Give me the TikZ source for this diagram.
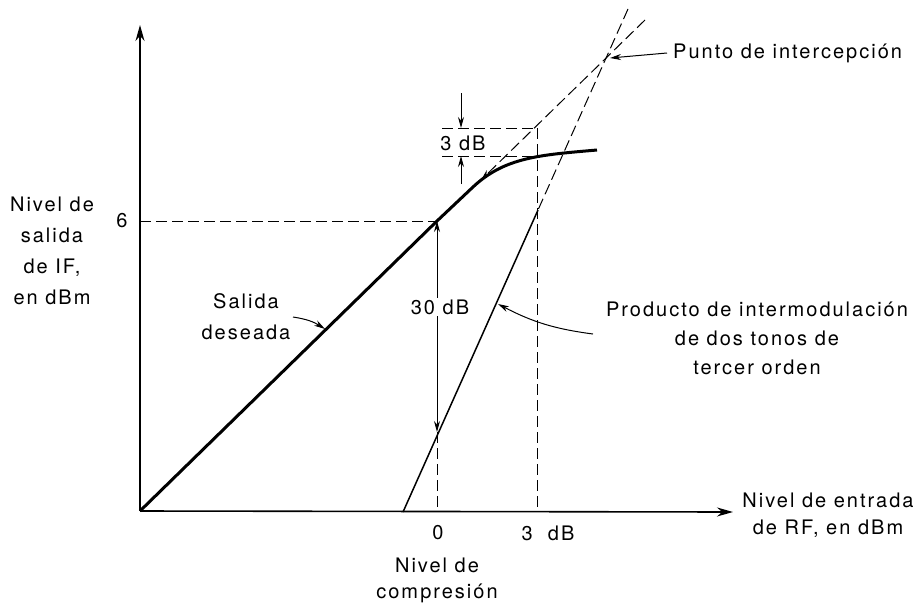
\documentclass[tikz,border=0pt]{standalone}
\usepackage{fontspec}
\setmainfont{TeX Gyre Heros}[LetterSpace=10]
\usetikzlibrary{arrows.meta}
\begin{document}
\begin{tikzpicture}[x=1pt,y=-1pt,
  lbl/.style={inner sep=0pt, align=center, font=\fontsize{20}{31}\selectfont},
  axisline/.style={line width=1.6pt, -{Stealth[length=16pt,width=9pt]}},
  mainline/.style={line width=3pt, line join=round},
  thirdline/.style={line width=1.5pt},
  dashline/.style={line width=1pt, dash pattern=on 11pt off 5pt},
  thinarrow/.style={line width=1pt, -{Stealth[length=11pt,width=6pt]}},
  dblarrow/.style={line width=1pt, {Stealth[length=11pt,width=6pt]}-{Stealth[length=11pt,width=6pt]}}
]
\useasboundingbox (0,0) rectangle (918,603);
% key points
\coordinate (O) at (140,511);
\coordinate (Ytop) at (140,25);
\coordinate (Xend) at (733,512);
\coordinate (P6) at (437,221);
\coordinate (K) at (473,187);
\coordinate (Cend) at (597,150);
\coordinate (T0) at (403,512);
\coordinate (Tm) at (538,210);
\coordinate (Ttop) at (628,9);
\coordinate (D1) at (645,20);
\coordinate (D2) at (481,180);
\coordinate (IP) at (610,58);
\coordinate (Q) at (437,432);
\coordinate (Qb) at (437,511);
\coordinate (Y6) at (140,221);
\coordinate (V3t) at (537,128);
\coordinate (V3b) at (537,511);
\coordinate (U1) at (442,128);
\coordinate (L1) at (442,156);
\coordinate (L2) at (537,156);
\coordinate (A1s) at (461,93);
\coordinate (A1e) at (461,128);
\coordinate (A2s) at (461,184);
\coordinate (A2e) at (461,156);
\coordinate (PuntoTail) at (667,53);
\coordinate (SalTail) at (293,317);
\coordinate (SalHead) at (325,329);
\coordinate (ImTail) at (593,334);
\coordinate (ImHead) at (498,304);

% axes
\draw[axisline] (O) -- (Ytop);
\draw[axisline] (O) -- (Xend);

% dashed guide lines
\draw[dashline] (Y6) -- (P6);
\draw[dashline] (Q) -- (Qb);
\draw[dashline] (V3t) -- (V3b);
\draw[dashline] (U1) -- (V3t);
\draw[dashline] (L1) -- (L2);
\draw[dashline, -{Stealth[length=11pt,width=6pt]}] (D1) -- (D2);
\draw[dashline] (Ttop) -- (Tm);

% curves
\draw[mainline] (O) -- (P6) -- (K) .. controls (505,157) and (540,155) .. (Cend);
\draw[thirdline] (T0) -- (Tm);

% dimension arrows
\draw[dblarrow] (P6) -- (Q);
\draw[thinarrow] (A1s) -- (A1e);
\draw[thinarrow] (A2s) -- (A2e);

% labels
\node[lbl] (ylab) at (52,251) {Nivel de\\salida\\de IF,\\en dBm};
\node[lbl] (six) at (122,221) {6};
\node[lbl] (sal) at (246,317) {Salida\\deseada};
\node[lbl, fill=white, inner sep=2pt] (db30) at (440,307) {30 dB};
\node[lbl] (db3) at (463,143) {3 dB};
\node[lbl, anchor=west] (punto) at (673,53) {Punto de intercepción};
\node[lbl, font=\fontsize{20}{29}\selectfont] (prod) at (757,338) {Producto de intermodulación\\de dos tonos de\\tercer orden};
\node[lbl] (zero) at (438,533) {0};
\node[lbl] (db3x) at (548,533) {3\ \ dB};
\node[lbl, font=\fontsize{20}{26}\selectfont] (comp) at (437,580) {Nivel de\\compresión};
\node[lbl, font=\fontsize{20}{27}\selectfont] (xlab) at (828,515) {Nivel de entrada\\de RF, en dBm};

% pointer arrows
\draw[thinarrow] (PuntoTail) -- (IP);
\draw[thinarrow] (SalTail) to[bend left=12] (SalHead);
\draw[thinarrow] (ImTail) to[bend left=10] (ImHead);
\end{tikzpicture}
\end{document}
